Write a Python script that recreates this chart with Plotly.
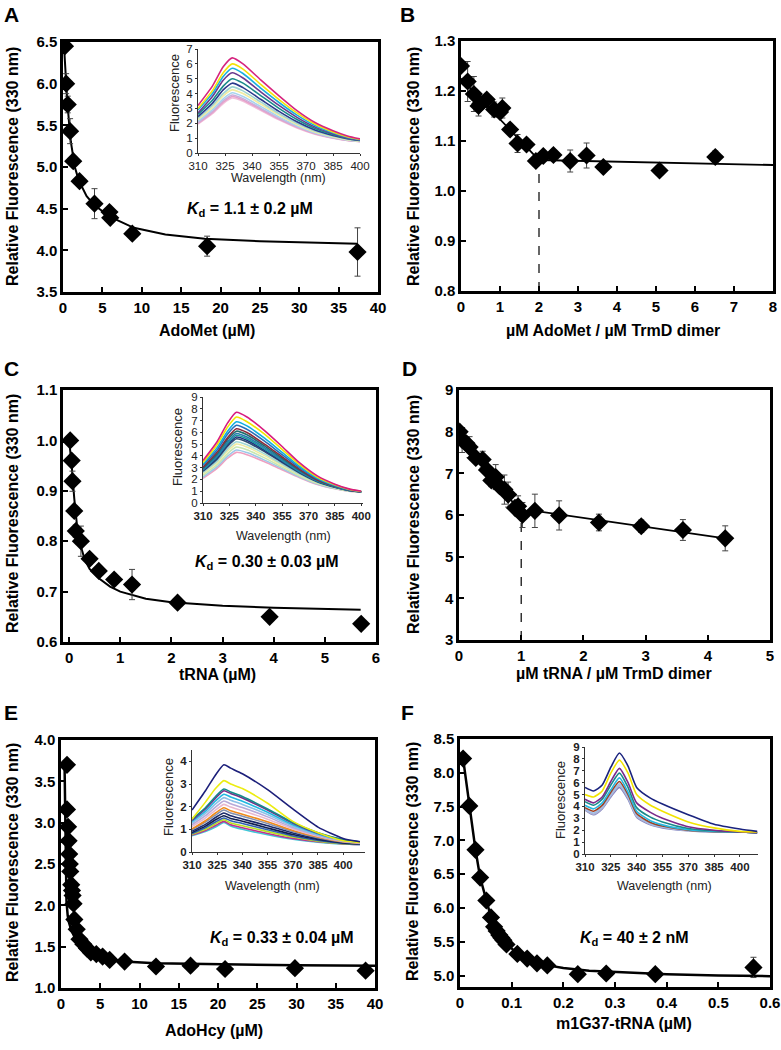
import plotly.graph_objects as go

W, H = 781, 1050
FONT = "Liberation Sans, Arial, sans-serif"

# ---------------- Panel A : AdoMet titration ----------------
a_x = [0.25, 0.4, 0.6, 0.9, 1.3, 2.1, 4.0, 5.9, 6.0, 8.8, 18.3, 37.4]
a_y = [6.45, 6.0, 5.75, 5.43, 5.07, 4.83, 4.56, 4.46, 4.39, 4.2, 4.05, 3.98]
a_err = [0.04, 0.12, 0.1, 0.15, 0.05, 0.03, 0.18, 0.05, 0.04, 0.03, 0.12, 0.29]
a_fit_x = [0.1, 0.3, 0.5, 0.75, 1.0, 1.5, 2, 3, 4, 6, 9, 13, 18, 25, 37.4]
a_fit_y = [6.5, 6.15, 5.85, 5.55, 5.3, 5.0, 4.84, 4.65, 4.54, 4.4, 4.27, 4.19, 4.14, 4.11, 4.08]
a_kd = "1.1 ± 0.2 µM"

# ---------------- Panel B : AdoMet stoichiometry ----------------
b_x = [0.0, 0.17, 0.33, 0.45, 0.5, 0.66, 0.85, 1.0, 1.06, 1.26, 1.45, 1.68, 1.92, 2.11, 2.37, 2.8, 3.22, 3.65, 5.09, 6.52]
b_y = [1.25, 1.219, 1.194, 1.17, 1.175, 1.183, 1.163, 1.158, 1.166, 1.123, 1.095, 1.093, 1.06, 1.07, 1.072, 1.06, 1.071, 1.048, 1.041, 1.068]
b_err = [0.005, 0.04, 0.035, 0.02, 0.01, 0.01, 0.015, 0.01, 0.02, 0.01, 0.018, 0.01, 0.01, 0.01, 0.01, 0.022, 0.025, 0.005, 0.005, 0.012]
b_line_x = [0, 2.0, 8]
b_line_y = [1.225, 1.062, 1.052]
b_eq = 2.0

# ---------------- Panel C : tRNA titration ----------------
c_x = [0.02, 0.05, 0.065, 0.1, 0.13, 0.23, 0.4, 0.58, 0.88, 1.23, 2.12, 3.92, 5.71]
c_y = [1.0, 0.96, 0.919, 0.86, 0.82, 0.8, 0.765, 0.741, 0.724, 0.714, 0.678, 0.65, 0.636]
c_err = [0.005, 0.01, 0.02, 0.01, 0.012, 0.03, 0.01, 0.005, 0.005, 0.03, 0.005, 0.005, 0.005]
c_fit_x = [0, 0.05, 0.1, 0.15, 0.2, 0.3, 0.4, 0.6, 0.8, 1.0, 1.5, 2, 3, 4, 5.7]
c_fit_y = [1.0, 0.95, 0.885, 0.835, 0.8, 0.765, 0.745, 0.725, 0.71, 0.7, 0.686, 0.679, 0.672, 0.668, 0.664]
c_kd = "0.30 ± 0.03 µM"

# ---------------- Panel D : tRNA stoichiometry ----------------
d_x = [0.01, 0.05, 0.12, 0.17, 0.27, 0.38, 0.45, 0.52, 0.59, 0.65, 0.73, 0.79, 0.9, 0.95, 1.02, 1.22, 1.61, 2.25, 2.93, 3.6, 4.28]
d_y = [8.0, 7.8, 7.72, 7.63, 7.37, 7.33, 7.08, 6.83, 6.91, 6.69, 6.61, 6.49, 6.17, 6.21, 6.0, 6.1, 5.99, 5.82, 5.73, 5.64, 5.44]
d_err = [0.05, 0.3, 0.1, 0.25, 0.1, 0.2, 0.1, 0.15, 0.3, 0.1, 0.35, 0.3, 0.1, 0.25, 0.3, 0.4, 0.35, 0.2, 0.15, 0.25, 0.3]
d_line_x = [0, 1.02, 1.22, 4.28]
d_line_y = [8.0, 6.0, 6.1, 5.44]
d_eq = 1.0

# ---------------- Panel E : AdoHcy titration ----------------
e_x = [0.76, 0.76, 0.9, 0.97, 1.05, 1.12, 1.18, 1.3, 1.4, 1.48, 1.6, 1.7, 2.0, 2.35, 2.85, 3.3, 3.8, 4.5, 5.3, 6.2, 8.1, 12.1, 16.5, 20.9, 29.8, 38.8]
e_y = [3.70, 3.16, 2.95, 2.78, 2.62, 2.5, 2.41, 2.25, 2.18, 2.12, 2.02, 1.83, 1.71, 1.59, 1.53, 1.48, 1.43, 1.41, 1.38, 1.34, 1.32, 1.26, 1.27, 1.23, 1.24, 1.21]
e_fit_x = [0.45, 0.5, 0.55, 0.6, 0.7, 0.85, 1.0, 1.3, 1.7, 2.2, 3, 4, 5, 6, 8, 12, 20, 30, 40]
e_fit_y = [3.72, 3.2, 2.7, 2.35, 2.05, 1.88, 1.8, 1.7, 1.62, 1.55, 1.47, 1.42, 1.38, 1.35, 1.32, 1.3, 1.285, 1.275, 1.27]
e_kd = "0.33 ± 0.04 µM"

# ---------------- Panel F : m1G37-tRNA titration ----------------
f_x = [0.006, 0.018, 0.03, 0.039, 0.051, 0.06, 0.066, 0.071, 0.076, 0.08, 0.084, 0.09, 0.111, 0.13, 0.149, 0.169, 0.228, 0.283, 0.378, 0.568]
f_y = [8.21, 7.51, 6.86, 6.45, 6.11, 5.86, 5.72, 5.66, 5.6, 5.56, 5.52, 5.46, 5.32, 5.25, 5.18, 5.15, 5.02, 5.03, 5.02, 5.12]
f_err = [0.03] * 19 + [0.15]
f_fit_x = [0.006, 0.018, 0.03, 0.039, 0.051, 0.06, 0.07, 0.08, 0.09, 0.11, 0.13, 0.15, 0.17, 0.2, 0.25, 0.3, 0.4, 0.5, 0.6]
f_fit_y = [8.21, 7.51, 6.86, 6.45, 6.11, 5.86, 5.7, 5.57, 5.47, 5.33, 5.25, 5.19, 5.15, 5.11, 5.07, 5.05, 5.02, 5.0, 4.99]
f_kd = "40 ± 2 nM"

# ---------------- Inset spectra ----------------
ia_wl = [310, 318, 324, 329, 335, 345, 355, 365, 375, 385, 393, 400]
ia_spectra = [
    [3.2, 4.5, 5.8, 6.4, 6.0, 4.9, 3.85, 2.85, 2.05, 1.5, 1.15, 0.95],
    [3.0, 4.2, 5.4, 6.0, 5.65, 4.6, 3.6, 2.7, 1.95, 1.42, 1.1, 0.92],
    [2.9, 4.0, 5.15, 5.7, 5.35, 4.35, 3.4, 2.55, 1.85, 1.36, 1.06, 0.9],
    [2.7, 3.8, 4.9, 5.4, 5.05, 4.1, 3.2, 2.4, 1.75, 1.3, 1.02, 0.88],
    [2.6, 3.55, 4.5, 5.0, 4.7, 3.85, 3.0, 2.25, 1.65, 1.25, 1.0, 0.86],
    [2.45, 3.35, 4.25, 4.7, 4.4, 3.6, 2.8, 2.1, 1.55, 1.18, 0.96, 0.84],
    [2.35, 3.2, 4.0, 4.45, 4.18, 3.42, 2.65, 2.0, 1.48, 1.14, 0.93, 0.82],
    [2.25, 3.05, 3.85, 4.25, 4.0, 3.28, 2.55, 1.92, 1.42, 1.1, 0.9, 0.8],
    [2.15, 2.92, 3.65, 4.05, 3.8, 3.12, 2.43, 1.84, 1.37, 1.06, 0.88, 0.79],
    [2.05, 2.8, 3.52, 3.9, 3.66, 3.0, 2.34, 1.78, 1.33, 1.03, 0.86, 0.78],
    [2.0, 2.72, 3.42, 3.8, 3.57, 2.93, 2.28, 1.73, 1.3, 1.01, 0.85, 0.77],
    [1.95, 2.65, 3.33, 3.7, 3.48, 2.86, 2.23, 1.69, 1.27, 0.99, 0.84, 0.76],
]
ia_colors = ["#d6247f", "#f4e20a", "#1ab0e0", "#6a3a8f", "#1a8a8a", "#2c3a8c",
             "#9fd4d0", "#f2eca0", "#a8d4ee", "#c9b0dc", "#e8a0c8", "#f0c0dc"]

ic_wl = [310, 318, 324, 329, 335, 345, 355, 365, 375, 385, 393, 400]
ic_spectra = [
    [3.6, 5.2, 6.8, 7.7, 7.3, 6.15, 4.8, 3.4, 2.3, 1.6, 1.2, 1.0],
    [3.45, 4.95, 6.45, 7.3, 6.9, 5.85, 4.55, 3.25, 2.2, 1.55, 1.17, 0.98],
    [3.3, 4.7, 6.1, 6.9, 6.55, 5.5, 4.3, 3.1, 2.12, 1.5, 1.15, 0.97],
    [3.2, 4.5, 5.85, 6.6, 6.25, 5.25, 4.1, 2.98, 2.05, 1.47, 1.13, 0.96],
    [3.05, 4.3, 5.55, 6.3, 5.98, 5.0, 3.92, 2.86, 1.98, 1.44, 1.11, 0.96],
    [2.95, 4.15, 5.4, 6.1, 5.8, 4.85, 3.8, 2.78, 1.94, 1.42, 1.1, 0.95],
    [2.85, 4.0, 5.2, 5.9, 5.6, 4.7, 3.68, 2.7, 1.9, 1.4, 1.09, 0.95],
    [2.8, 3.92, 5.08, 5.75, 5.46, 4.58, 3.6, 2.65, 1.87, 1.38, 1.08, 0.95],
    [2.75, 3.82, 4.95, 5.6, 5.32, 4.47, 3.52, 2.6, 1.84, 1.36, 1.07, 0.95],
    [2.7, 3.72, 4.82, 5.45, 5.18, 4.36, 3.44, 2.55, 1.81, 1.34, 1.06, 0.95],
    [2.6, 3.56, 4.6, 5.2, 4.94, 4.17, 3.3, 2.46, 1.76, 1.31, 1.05, 0.95],
    [2.5, 3.42, 4.42, 5.0, 4.75, 4.02, 3.19, 2.39, 1.72, 1.29, 1.04, 0.95],
    [2.35, 3.25, 4.2, 4.75, 4.52, 3.83, 3.05, 2.3, 1.67, 1.26, 1.03, 0.95],
    [2.2, 3.08, 3.98, 4.5, 4.28, 3.64, 2.92, 2.21, 1.62, 1.23, 1.02, 0.95],
    [2.1, 2.95, 3.8, 4.3, 4.1, 3.5, 2.82, 2.15, 1.58, 1.21, 1.01, 0.95],
]
ic_colors = ["#d81b7f", "#f2e500", "#12aee0", "#2a6fb8", "#8b2a3a", "#1f6f6f", "#2878b0",
             "#1a9a9a", "#203080", "#2f4f6f", "#9fd6d4", "#f0eba0", "#c8e6b0", "#9cc8e8", "#f0a0c0"]

ie_wl = [310, 318, 324, 329, 333, 340, 355, 370, 385, 400, 410]
ie_spectra = [
    [1.85, 2.7, 3.4, 3.85, 3.7, 3.45, 2.75, 1.9, 1.1, 0.6, 0.45],
    [1.45, 2.2, 2.8, 3.15, 3.0, 2.8, 2.15, 1.35, 0.85, 0.5, 0.42],
    [1.45, 1.95, 2.45, 2.78, 2.65, 2.45, 1.9, 1.3, 0.85, 0.55, 0.45],
    [1.4, 1.9, 2.38, 2.7, 2.58, 2.38, 1.85, 1.27, 0.83, 0.54, 0.44],
    [1.35, 1.8, 2.25, 2.55, 2.43, 2.24, 1.75, 1.2, 0.8, 0.52, 0.43],
    [1.28, 1.7, 2.12, 2.4, 2.28, 2.1, 1.65, 1.14, 0.76, 0.5, 0.42],
    [1.2, 1.6, 1.98, 2.25, 2.13, 1.96, 1.55, 1.08, 0.73, 0.48, 0.41],
    [1.12, 1.5, 1.85, 2.1, 1.98, 1.82, 1.45, 1.02, 0.7, 0.47, 0.4],
    [1.02, 1.38, 1.72, 1.95, 1.82, 1.67, 1.33, 0.95, 0.66, 0.45, 0.39],
    [0.98, 1.32, 1.63, 1.85, 1.72, 1.58, 1.26, 0.9, 0.63, 0.44, 0.38],
    [0.92, 1.22, 1.52, 1.72, 1.6, 1.46, 1.16, 0.84, 0.59, 0.42, 0.37],
    [0.86, 1.14, 1.42, 1.6, 1.48, 1.36, 1.06, 0.77, 0.55, 0.4, 0.36],
    [0.82, 1.07, 1.32, 1.5, 1.38, 1.26, 0.98, 0.71, 0.51, 0.38, 0.35],
    [0.78, 1.0, 1.25, 1.42, 1.28, 1.16, 0.9, 0.66, 0.48, 0.37, 0.34],
    [0.75, 0.95, 1.17, 1.35, 1.2, 1.07, 0.82, 0.6, 0.45, 0.36, 0.33],
    [0.72, 0.9, 1.1, 1.3, 1.15, 1.0, 0.76, 0.56, 0.43, 0.35, 0.32],
]
ie_colors = ["#1c1f7a", "#ecec10", "#138a8a", "#7a2d8a", "#20b8e0", "#8cc0e8", "#b8a8d8",
             "#e8b8d0", "#f08a1a", "#8090b0", "#1a2a6a", "#102050", "#3060b0", "#b8e020",
             "#c03090", "#40c8d8"]

if_wl = [310, 315, 320, 325, 330, 335, 340, 348, 355, 370, 385, 400, 410]
if_spectra = [
    [5.6, 5.3, 5.8, 7.3, 8.5, 7.4, 5.6, 4.7, 4.2, 3.3, 2.5, 2.1, 1.9],
    [5.0, 4.8, 5.3, 6.8, 7.9, 6.8, 5.0, 4.1, 3.6, 2.7, 2.2, 1.9, 1.85],
    [4.6, 4.3, 4.8, 6.1, 7.2, 6.0, 4.3, 3.5, 3.0, 2.3, 2.0, 1.85, 1.8],
    [4.4, 4.1, 4.6, 5.8, 6.8, 5.6, 3.9, 3.1, 2.7, 2.15, 1.95, 1.85, 1.8],
    [4.1, 3.8, 4.3, 5.4, 6.4, 5.2, 3.6, 2.8, 2.45, 2.05, 1.9, 1.85, 1.8],
    [3.9, 3.6, 4.1, 5.2, 6.1, 5.0, 3.4, 2.65, 2.35, 2.0, 1.88, 1.85, 1.8],
    [3.8, 3.45, 3.95, 5.0, 5.9, 4.8, 3.25, 2.55, 2.3, 1.98, 1.87, 1.85, 1.8],
    [3.75, 3.35, 3.85, 4.9, 5.75, 4.7, 3.15, 2.5, 2.25, 1.96, 1.86, 1.85, 1.8],
    [3.7, 3.3, 3.8, 4.8, 5.6, 4.6, 3.1, 2.45, 2.2, 1.95, 1.85, 1.85, 1.8],
]
if_colors = ["#1a237e", "#f2e400", "#7b2a8a", "#198a8a", "#28b8e0", "#a04020",
             "#a0c0e8", "#b0b0d0", "#8080c0"]

# ---------------- layout helpers ----------------
def px_x(p):
    return p / W

def px_y(p):
    return 1 - p / H

fig = go.Figure()
layout = dict(width=W, height=H, autosize=False,
              margin=dict(l=0, r=0, t=0, b=0, pad=0, autoexpand=False),
              paper_bgcolor="white", plot_bgcolor="white", showlegend=False,
              font=dict(family=FONT, color="black"))
annotations = []

def main_axes(n, x0, x1, y0, y1, xr, yr, xdt, ydt, yfmt, xtick0=0, ytick0=None):
    common = dict(showline=True, mirror=True, linewidth=2.5, linecolor="black",
                  ticks="inside", ticklen=5, tickwidth=1.5, tickcolor="black",
                  showgrid=False, zeroline=False, automargin=False,
                  tickfont=dict(family=FONT, size=15, color="black", weight="bold"))
    xa = dict(common, domain=[px_x(x0), px_x(x1)], range=xr, dtick=xdt, tick0=xtick0,
              anchor="y%d" % n)
    ya = dict(common, domain=[px_y(y1), px_y(y0)], range=yr, dtick=ydt,
              tickformat=yfmt, anchor="x%d" % n)
    if ytick0 is not None:
        ya["tick0"] = ytick0
    layout["xaxis%d" % n] = xa
    layout["yaxis%d" % n] = ya

def inset_axes(n, x0, x1, y0, y1, xr, yr, ydt, xbold, ybold):
    common = dict(showline=True, mirror=False, linewidth=1, linecolor="#333",
                  ticks="outside", ticklen=2, tickwidth=1, tickcolor="#333",
                  showgrid=False, zeroline=False, automargin=False)
    xa = dict(common, domain=[px_x(x0), px_x(x1)], range=xr, tick0=310, dtick=15,
              anchor="y%d" % n,
              tickfont=dict(family=FONT, size=11.5, color="#222",
                            weight="bold" if xbold else "normal"))
    ya = dict(common, domain=[px_y(y1), px_y(y0)], range=yr, dtick=ydt, anchor="x%d" % n,
              tickfont=dict(family=FONT, size=11.5, color="#222",
                            weight="bold" if ybold else "normal"))
    layout["xaxis%d" % n] = xa
    layout["yaxis%d" % n] = ya

def ann(text, x, y, size, angle=0, xanchor="center", bold=True, color="black"):
    t = "<b>%s</b>" % text if bold else text
    annotations.append(dict(text=t, x=px_x(x), y=px_y(y), xref="paper", yref="paper",
                            showarrow=False, textangle=angle, xanchor=xanchor,
                            yanchor="middle",
                            font=dict(family=FONT, size=size, color=color)))

def points(n, xs, ys, err=None):
    kw = {}
    if err is not None:
        kw["error_y"] = dict(type="data", array=err, color="#444", thickness=1, width=3)
    fig.add_trace(go.Scatter(x=xs, y=ys, mode="markers", xaxis="x%d" % n, yaxis="y%d" % n,
                             marker=dict(symbol="diamond", size=14, color="black"), **kw))

def line(n, xs, ys, width=2, dash="solid"):
    fig.add_trace(go.Scatter(x=xs, y=ys, mode="lines", xaxis="x%d" % n, yaxis="y%d" % n,
                             line=dict(color="black", width=width, dash=dash)))

def spectra(n, wl, curves, colors):
    for c, col in zip(curves[::-1], colors[::-1]):
        fig.add_trace(go.Scatter(x=wl, y=c, mode="lines", xaxis="x%d" % n, yaxis="y%d" % n,
                                 line=dict(color=col, width=1.6, shape="spline",
                                           smoothing=0.6)))

# ---------------- Panels ----------------
main_axes(1, 63, 378, 42, 292, [0, 40], [3.5, 6.5], 5, 0.5, ".1f")
line(1, a_fit_x, a_fit_y)
points(1, a_x, a_y, a_err)

main_axes(2, 461, 773, 41, 291, [0, 8], [0.8, 1.3], 1, 0.1, ".1f")
line(2, b_line_x, b_line_y, width=1.8)
line(2, [b_eq, b_eq], [0.8, b_line_y[1]], width=1.2, dash="dash")
points(2, b_x, b_y, b_err)

main_axes(3, 63, 376, 390, 642, [-0.12, 6], [0.6, 1.1], 1, 0.1, ".1f")
line(3, c_fit_x, c_fit_y)
points(3, c_x, c_y, c_err)

main_axes(4, 459, 770, 390, 640, [0, 5], [3, 9], 1, 1, "d")
line(4, d_line_x, d_line_y, width=1.8)
line(4, [d_eq, d_eq], [3, d_line_y[1]], width=1.2, dash="dash")
points(4, d_x, d_y, d_err)

main_axes(5, 61, 375, 740, 988, [0, 40], [1, 4], 5, 0.5, ".1f")
line(5, e_fit_x, e_fit_y, width=2.5)
points(5, e_x, e_y)

main_axes(6, 460, 770, 739, 987, [0, 0.6], [4.83, 8.5], 0.1, 0.5, ".1f", ytick0=5.0)
line(6, f_fit_x, f_fit_y, width=2.5)
points(6, f_x, f_y, f_err)

# ---------------- Insets ----------------
inset_axes(7, 198, 360, 49, 153, [310, 400], [0, 7], 1, False, False)
spectra(7, ia_wl, ia_spectra, ia_colors)
inset_axes(8, 203, 363, 397, 503, [310, 401], [0, 9], 1, True, False)
spectra(8, ic_wl, ic_spectra, ic_colors)
inset_axes(9, 192, 365, 750, 852, [310, 413], [0, 4.5], 1, True, True)
spectra(9, ie_wl, ie_spectra, ie_colors)
inset_axes(10, 585, 758, 747, 854, [310, 410.5], [0, 9], 1, True, True)
spectra(10, if_wl, if_spectra, if_colors)

# ---------------- Text ----------------
for letter, x, y in [("A", 11, 15), ("B", 407, 15), ("C", 11, 368),
                     ("D", 410, 368), ("E", 11, 712), ("F", 407, 712)]:
    ann(letter, x, y, 21)

YT = "Relative Fluorescence (330 nm)"
ann(YT, 12, 167, 16, angle=-90)
ann(YT, 413, 167, 16, angle=-90)
ann(YT, 12, 514, 16, angle=-90)
ann(YT, 413, 515, 16, angle=-90)
ann(YT, 12, 863, 16, angle=-90)
ann(YT, 412, 862, 16, angle=-90)

ann("AdoMet (µM)", 207, 330, 16)
ann("µM AdoMet / µM TrmD dimer", 613, 330, 16)
ann("tRNA (µM)", 217, 674, 16)
ann("µM tRNA / µM TrmD dimer", 614, 673, 16)
ann("AdoHcy (µM)", 214, 1030, 16)
ann("m1G37-tRNA (µM)", 624, 1023, 16)

for x, y in [(175, 93), (177, 447), (168, 797), (560, 800)]:
    ann("Fluorescence", x, y, 13, angle=-90, bold=False, color="#222")
for x, y in [(278, 178), (283, 536), (272, 886), (664, 886)]:
    ann("Wavelength (nm)", x, y, 12.5, bold=False, color="#222")

for kd, x, y in [(a_kd, 185, 210), (c_kd, 193, 562), (e_kd, 208, 938), (f_kd, 578, 938)]:
    ann("<i>K</i><sub>d</sub> = " + kd, x, y, 16, xanchor="left")

layout["annotations"] = annotations
fig.update_layout(**layout)
fig.write_html("out.html", config={"displayModeBar": False},
               post_script="document.body.style.margin='0px';"
                           "document.body.style.overflow='hidden';")
